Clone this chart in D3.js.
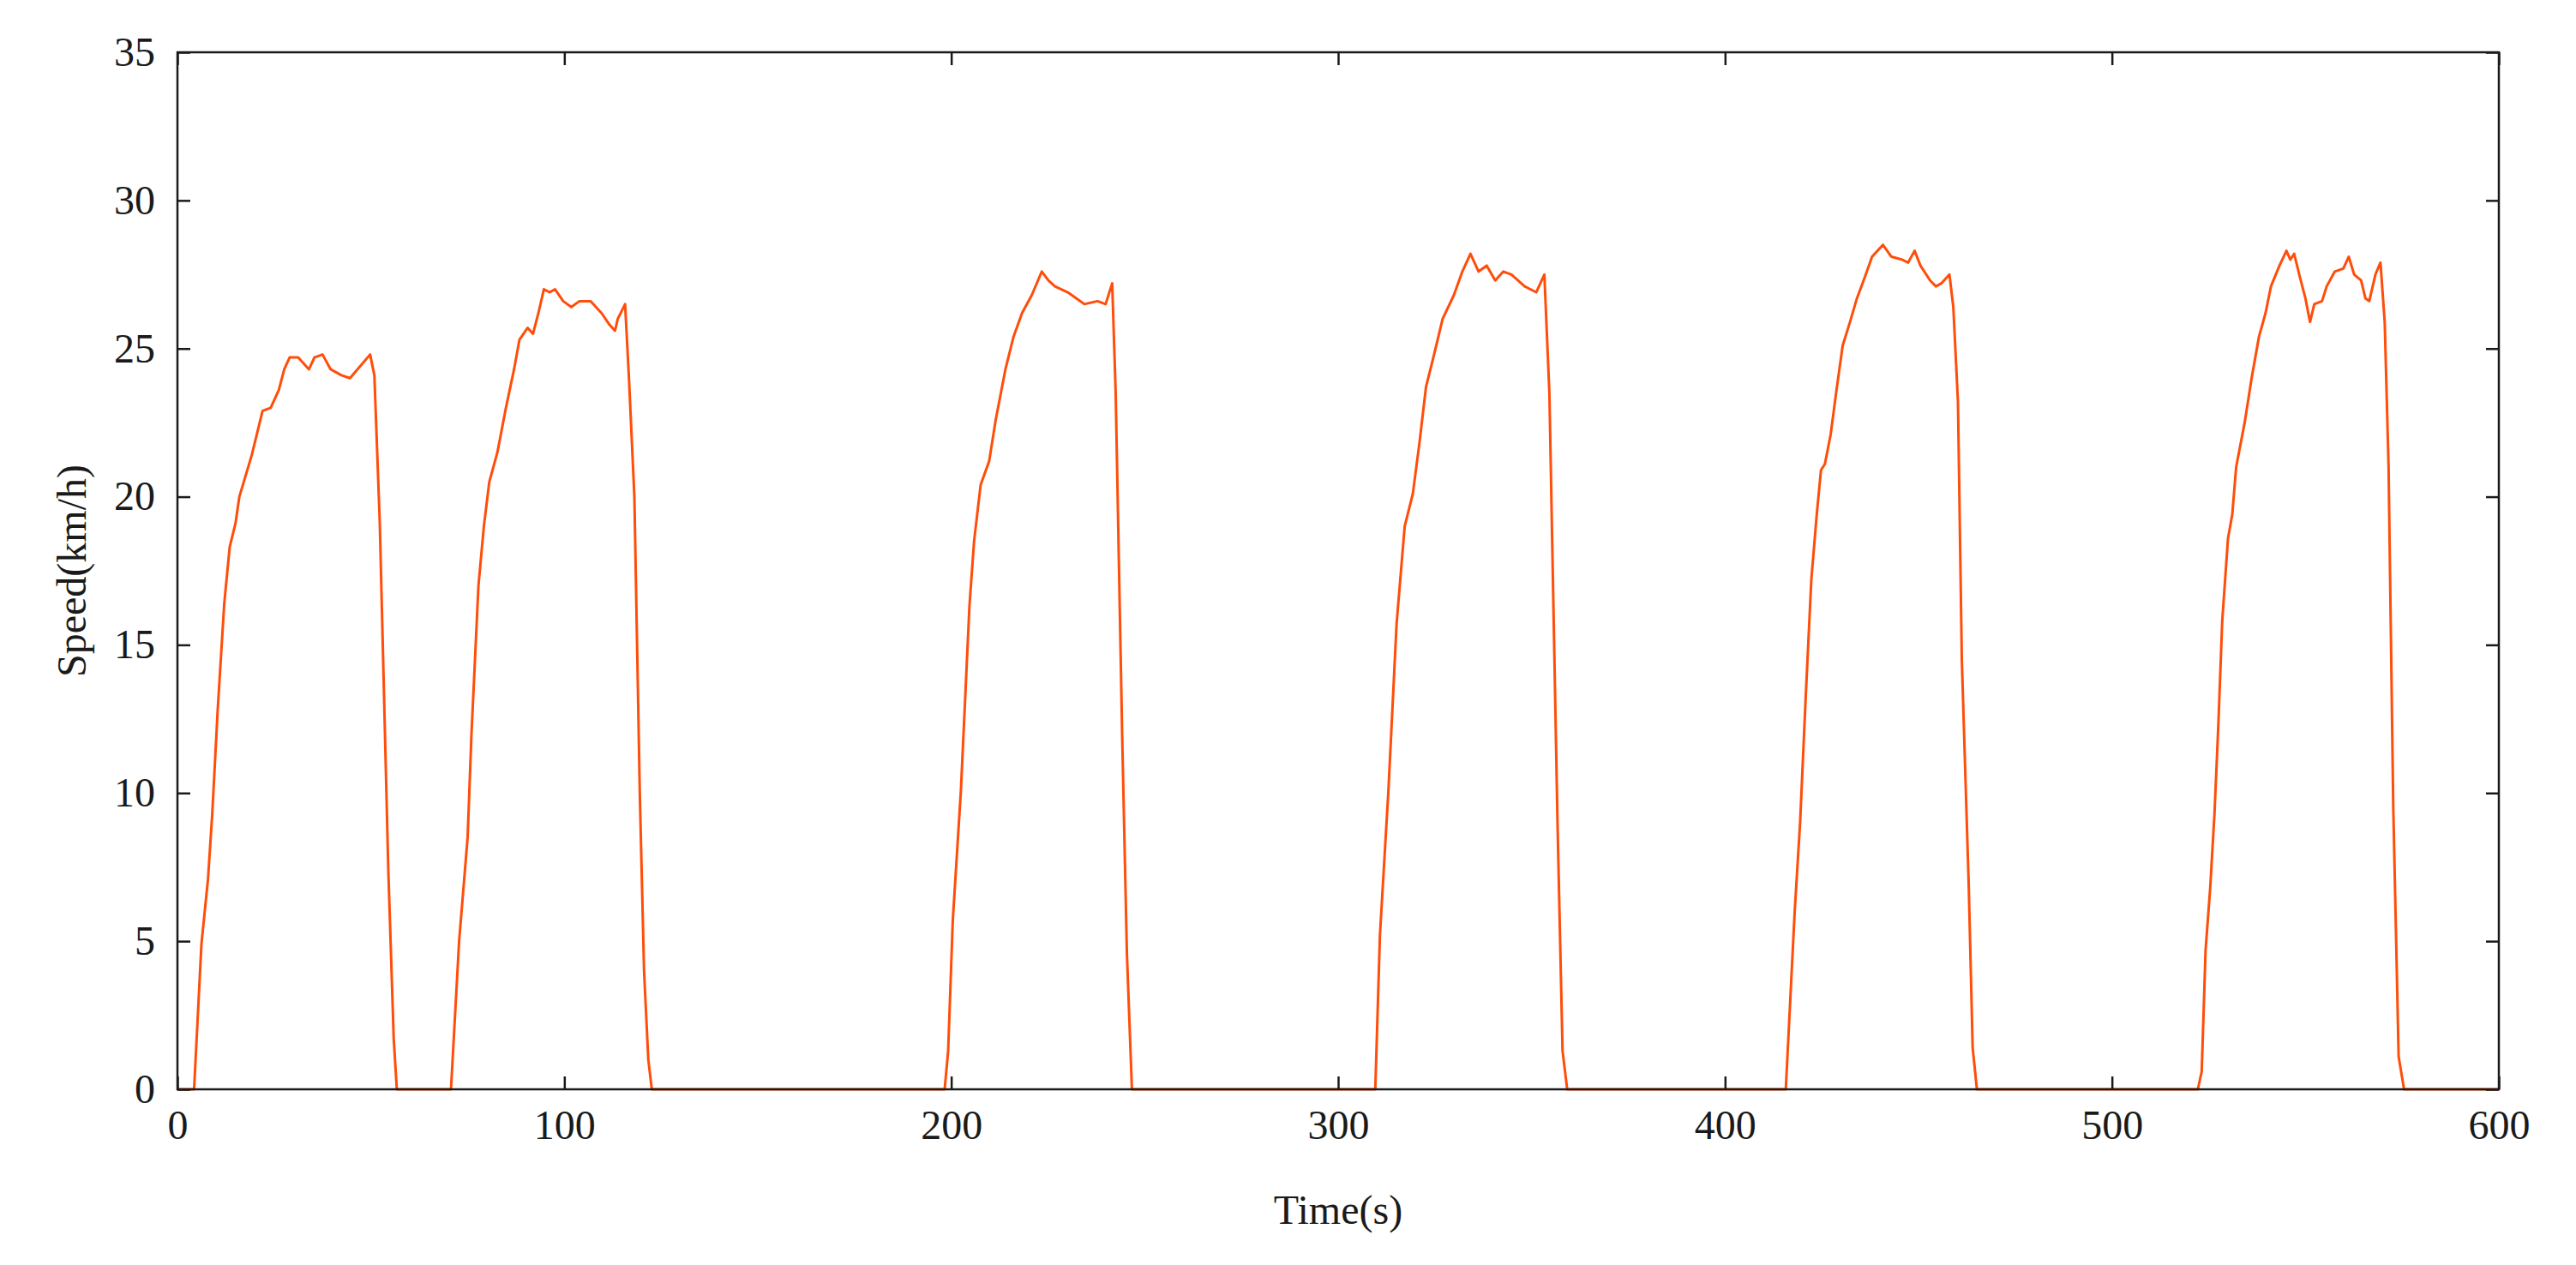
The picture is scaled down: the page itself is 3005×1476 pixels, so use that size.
<!DOCTYPE html>
<html>
<head>
<meta charset="utf-8">
<script src="https://cdn.jsdelivr.net/npm/d3@7"></script>
<style>
  body { margin: 0; background: #fff; }
  text { font-family: "Liberation Serif", "Times New Roman", serif; fill: #1a1a1a; }
</style>
</head>
<body>
<div id="viz"></div>
<script>
// time (s) and speed (km/h), one pair of arrays per run
const time1 = [0, 4.3, 6.2, 7.9, 9.0, 10.4, 12.1, 13.5, 15.0, 16.0, 19.2, 22.0, 24.1, 26.2, 27.6, 29.0, 31.2, 34.0, 35.4, 37.5, 39.6, 42.4, 44.6, 49.8, 50.9, 52.3, 54.5, 55.9, 56.7];
const speed1 = [0, 0, 4.9, 7.1, 9.3, 12.8, 16.4, 18.3, 19.1, 20.0, 21.4, 22.9, 23.0, 23.6, 24.3, 24.7, 24.7, 24.3, 24.7, 24.8, 24.3, 24.1, 24.0, 24.8, 24.1, 19.1, 7.4, 1.7, 0];

const time2 = [70.7, 72.8, 75.0, 76.0, 77.8, 79.2, 80.6, 82.7, 84.9, 87.0, 88.4, 90.5, 91.9, 93.3, 94.7, 96.2, 97.6, 99.7, 101.8, 103.9, 106.8, 109.6, 111.7, 113.1, 113.8, 115.7, 116.7, 118.1, 119.5, 120.6, 121.7, 122.6];
const speed2 = [0, 5.0, 8.5, 12.0, 17.0, 19.0, 20.5, 21.5, 23.0, 24.3, 25.3, 25.7, 25.5, 26.2, 27.0, 26.9, 27.0, 26.6, 26.4, 26.6, 26.6, 26.2, 25.8, 25.6, 26.0, 26.5, 24.0, 20.0, 10.0, 4.0, 1.0, 0];

const time3 = [198.3, 199.2, 200.4, 202.5, 204.7, 205.9, 207.6, 209.8, 211.5, 214.0, 216.1, 218.3, 220.8, 223.4, 225.1, 226.8, 230.1, 232.3, 234.4, 237.8, 239.9, 241.6, 242.5, 244.2, 245.4, 246.7];
const speed3 = [0, 1.3, 5.7, 10.1, 16.3, 18.5, 20.4, 21.2, 22.6, 24.3, 25.4, 26.2, 26.8, 27.6, 27.3, 27.1, 26.9, 26.7, 26.5, 26.6, 26.5, 27.2, 23.5, 11.8, 4.6, 0];

const time4 = [309.6, 310.8, 313.0, 315.1, 317.2, 319.3, 321.0, 322.7, 324.8, 327.0, 329.9, 332.1, 334.2, 336.3, 338.4, 340.6, 342.7, 344.8, 348.2, 351.2, 353.3, 354.6, 356.7, 358.0, 359.2];
const speed4 = [0, 5.2, 10.1, 15.7, 19.0, 20.1, 21.8, 23.7, 24.8, 26.0, 26.8, 27.6, 28.2, 27.6, 27.8, 27.3, 27.6, 27.5, 27.1, 26.9, 27.5, 23.5, 9.0, 1.3, 0];

const time5 = [415.7, 418.0, 419.4, 420.8, 422.3, 423.7, 424.8, 425.8, 427.3, 428.7, 430.4, 432.3, 434.1, 436.1, 438.0, 440.8, 443.0, 445.8, 447.3, 449.0, 450.5, 453.0, 454.5, 455.9, 458.0, 459.0, 460.2, 461.2, 463.0, 464.0, 465.1];
const speed5 = [0, 6.0, 9.0, 13.1, 17.2, 19.4, 20.9, 21.1, 22.1, 23.5, 25.1, 25.9, 26.7, 27.4, 28.1, 28.5, 28.1, 28.0, 27.9, 28.3, 27.8, 27.3, 27.1, 27.2, 27.5, 26.4, 23.2, 14.5, 6.8, 1.4, 0];

const time6 = [522.2, 523.2, 524.2, 525.4, 526.5, 527.5, 528.5, 530.0, 531.1, 532.1, 534.3, 536.1, 538.0, 539.7, 541.1, 543.3, 545.1, 546.1, 547.1, 548.6, 550.0, 551.2, 552.3, 554.3, 555.5, 557.6, 559.8, 561.2, 562.6, 564.4, 565.5, 566.5, 568.1, 569.4, 570.5, 571.5, 572.7, 574.1, 575.5, 600];
const speed6 = [0, 0.6, 4.7, 6.8, 9.3, 12.3, 15.8, 18.6, 19.4, 21.0, 22.5, 24.0, 25.4, 26.2, 27.1, 27.8, 28.3, 28.0, 28.2, 27.4, 26.7, 25.9, 26.5, 26.6, 27.1, 27.6, 27.7, 28.1, 27.5, 27.3, 26.7, 26.6, 27.5, 27.9, 25.9, 21.0, 9.6, 1.1, 0, 0];

const xTicks = [0, 100, 200, 300, 400, 500, 600];
const yTicks = [0, 5, 10, 15, 20, 25, 30, 35];

const W = 3005, H = 1476;
const margin = { left: 207, right: W - 2915, top: 61, bottom: H - 1271 };

const svg = d3.select("#viz").append("svg")
  .attr("width", W)
  .attr("height", H);

const x = d3.scaleLinear().domain([0, 600]).range([margin.left, W - margin.right]);
const y = d3.scaleLinear().domain([0, 35]).range([H - margin.bottom, margin.top]);

// stitch the runs together (zeros in between are implied by the end points)
const times = [].concat(time1, time2, time3, time4, time5, time6);
const speeds = [].concat(speed1, speed2, speed3, speed4, speed5, speed6);
const pts = times.map((t, i) => [t, speeds[i]]);

const line = d3.line().x(d => x(d[0])).y(d => y(d[1]));

svg.append("path")
  .datum(pts)
  .attr("d", line)
  .attr("fill", "none")
  .attr("stroke", "#ff4d0a")
  .attr("stroke-width", 3)
  .attr("stroke-linejoin", "round");

const tick = 15;
const axisStyle = g => {
  g.select(".domain").remove();
  g.selectAll(".tick line").attr("stroke", "#1a1a1a").attr("stroke-width", 2.5);
  g.selectAll(".tick text").style("font-size", "48px").style("font-family", "Liberation Serif, serif").attr("fill", "#1a1a1a");
};

svg.append("g")
  .attr("transform", `translate(0,${y(0)})`)
  .call(d3.axisBottom(x).tickValues(xTicks).tickSizeInner(-tick).tickSizeOuter(0).tickPadding(24))
  .call(axisStyle);

svg.append("g")
  .attr("transform", `translate(0,${y(35)})`)
  .call(d3.axisTop(x).tickValues(xTicks).tickSizeInner(-tick).tickSizeOuter(0).tickFormat(""))
  .call(axisStyle);

svg.append("g")
  .attr("transform", `translate(${x(0)},0)`)
  .call(d3.axisLeft(y).tickValues(yTicks).tickSizeInner(-tick).tickSizeOuter(0).tickPadding(26))
  .call(axisStyle);

svg.append("g")
  .attr("transform", `translate(${x(600)},0)`)
  .call(d3.axisRight(y).tickValues(yTicks).tickSizeInner(-tick).tickSizeOuter(0).tickFormat(""))
  .call(axisStyle);

// frame
svg.append("rect")
  .attr("x", x(0)).attr("y", y(35))
  .attr("width", x(600) - x(0)).attr("height", y(0) - y(35))
  .attr("fill", "none").attr("stroke", "#1a1a1a").attr("stroke-width", 2.5);

svg.append("text")
  .attr("x", (x(0) + x(600)) / 2).attr("y", 1428)
  .attr("text-anchor", "middle")
  .style("font-size", "48px")
  .text("Time(s)");

svg.append("text")
  .attr("transform", `translate(100,${(y(0) + y(35)) / 2}) rotate(-90)`)
  .attr("text-anchor", "middle")
  .style("font-size", "48px")
  .text("Speed(km/h)");
</script>
</body>
</html>
